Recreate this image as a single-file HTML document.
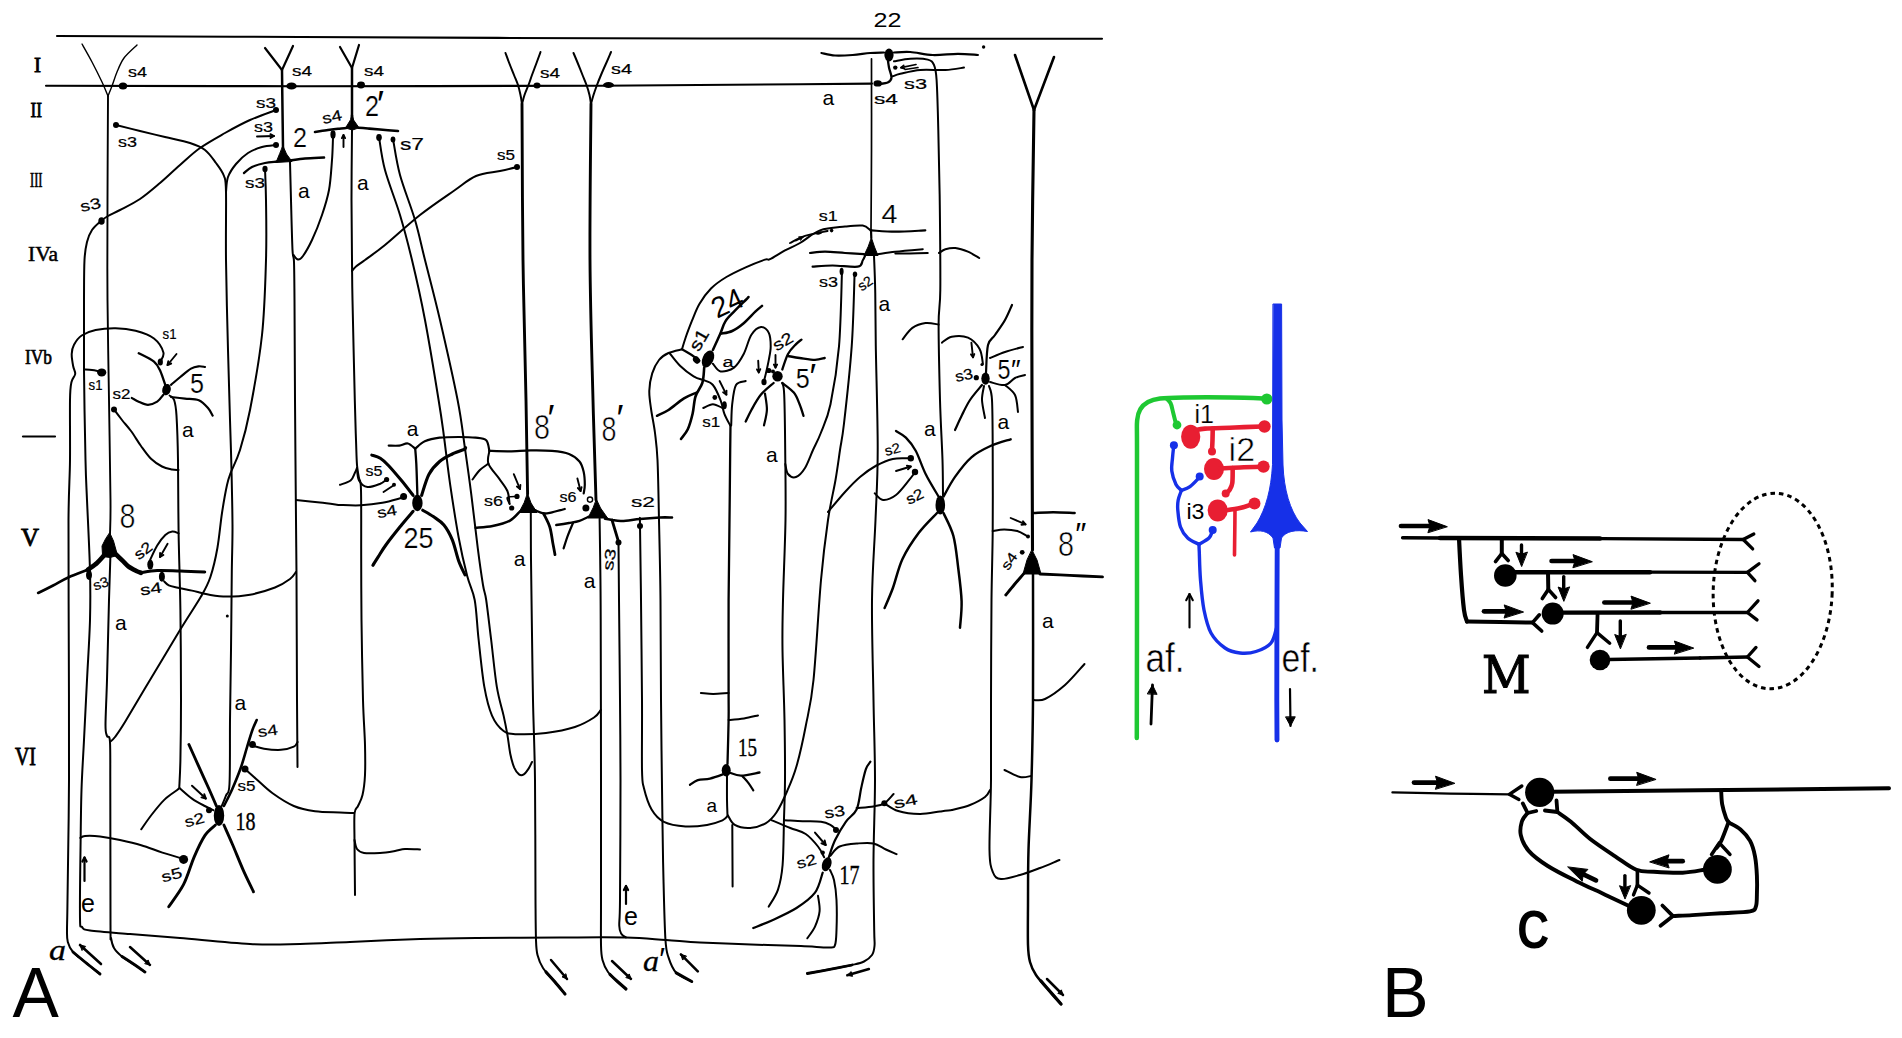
<!DOCTYPE html>
<html><head><meta charset="utf-8"><title>Figure</title>
<style>
html,body{margin:0;padding:0;background:#fff;}
body{width:1902px;height:1038px;overflow:hidden;}
svg{display:block;}
.s{font-family:"Liberation Sans",sans-serif;}
.r{font-family:"Liberation Serif",serif;}
.d{font-family:"DejaVu Serif","Liberation Serif",serif;}
</style></head><body>
<svg width="1902" height="1038" viewBox="0 0 1902 1038">
<rect width="1902" height="1038" fill="#fff"/>
<g fill="none" stroke="#000" stroke-linecap="round" stroke-linejoin="round">
<path d="M23,436.5L55,436.5" stroke-width="2.2"/>
<path d="M57,36C97.5,36.2 209.5,36.6 300,37C390.5,37.4 500,38 600,38.3C700,38.6 816.3,38.6 900,38.7C983.7,38.8 1068.3,38.7 1102,38.7" stroke-width="2.1"/>
<path d="M46,85.7C88.3,85.8 207.7,86.2 300,86.2C392.3,86.2 516.7,86 600,85.7C683.3,85.4 754.7,84.6 800,84.2C845.3,83.8 860,83.7 872,83.6" stroke-width="2.1"/>
<path d="M82,44C83.7,47 88.7,55.7 92,62C95.3,68.3 99.3,76.3 102,82C104.7,87.7 107,93.7 108,96" stroke-width="1.4"/>
<path d="M137,45C134.8,47.2 127.3,53.5 124,58C120.7,62.5 119,67.3 117,72C115,76.7 113.5,82 112,86C110.5,90 108.7,94.3 108,96" stroke-width="1.4"/>
<path d="M108,96C107.9,113.3 107.6,166 107.5,200C107.4,234 107.2,266.7 107.5,300C107.8,333.3 108.5,366.7 109,400C109.5,433.3 110.3,477.7 110.5,500C110.7,522.3 110.1,528.3 110,534" stroke-width="1.9"/>
<path d="M265,48L282,70" stroke-width="2.2"/>
<path d="M293,46L282,70" stroke-width="2.2"/>
<path d="M282,70C282.1,76.7 282.3,97 282.5,110C282.7,123 282.9,141.7 283,148" stroke-width="2.5"/>
<path d="M340,47L352,68" stroke-width="2.2"/>
<path d="M359,45L352,68" stroke-width="2.2"/>
<path d="M352,68L352,116" stroke-width="2.5"/>
<path d="M505.5,53C506.1,54.6 507.6,58.8 509,62.5C510.4,66.2 512.5,71.2 514,75C515.5,78.8 516.9,81.7 518,85C519.1,88.3 519.8,91.8 520.5,95C521.2,98.2 521.8,102.5 522,104" stroke-width="2"/>
<path d="M540.5,52C539.9,53.8 538.1,58.7 536.7,62.5C535.3,66.3 533.4,71.2 532,75C530.6,78.8 529.8,81.7 528.5,85C527.2,88.3 525.6,91.8 524.5,95C523.4,98.2 522.4,102.5 522,104" stroke-width="2"/>
<path d="M522,104C522.2,130 522.3,210.7 523,260C523.7,309.3 525.2,361 526,400C526.8,439 527.3,478.3 527.6,494" stroke-width="2.9"/>
<path d="M573.5,53C574.2,54.6 576,58.8 577.5,62.5C579,66.2 581,71.2 582.5,75C584,78.8 585.3,81.7 586.5,85C587.7,88.3 588.8,91.8 589.5,95C590.2,98.2 590.8,102.5 591,104" stroke-width="2"/>
<path d="M611,52C610.2,53.8 608.2,58.7 606.5,62.5C604.8,66.3 602.6,71.2 601,75C599.4,78.8 598.2,81.7 597,85C595.8,88.3 594.5,91.8 593.5,95C592.5,98.2 591.4,102.5 591,104" stroke-width="2"/>
<path d="M591,104C590.8,130 589.7,210.7 590,260C590.3,309.3 592,360 593,400C594,440 595.5,483.3 596,500" stroke-width="2.9"/>
<path d="M1015,55L1034,110" stroke-width="2.6"/>
<path d="M1054,57L1034,110" stroke-width="2.6"/>
<path d="M1034,110C1033.7,135 1032.3,211.7 1032,260C1031.7,308.3 1031.9,351.7 1032,400C1032.1,448.3 1032.4,525 1032.5,550" stroke-width="3.1"/>
<ellipse cx="123" cy="86" rx="4.2" ry="3.6" fill="#000" stroke="none"/>
<ellipse cx="291.5" cy="86" rx="5.2" ry="3.6" fill="#000" stroke="none"/>
<ellipse cx="361" cy="85" rx="4" ry="3.4" fill="#000" stroke="none"/>
<ellipse cx="537" cy="85.5" rx="3.5" ry="3" fill="#000" stroke="none"/>
<ellipse cx="608.5" cy="85" rx="5.5" ry="3" fill="#000" stroke="none"/>
<ellipse cx="877.7" cy="83.4" rx="4.2" ry="3.2" fill="#000" stroke="none"/>
<circle cx="116" cy="125" r="3" fill="#000" stroke="none"/>
<path d="M116,125C120,126 131.8,129 140,131C148.2,133 156.7,135 165,137C173.3,139 183.3,140.8 190,143C196.7,145.2 200.7,146.7 205,150C209.3,153.3 212.8,158.7 216,163C219.2,167.3 222.3,171.2 224,176C225.7,180.8 225.7,178 226,192C226.3,206 225.7,233.7 226,260C226.3,286.3 227.3,323.3 228,350C228.7,376.7 229.4,400 230,420C230.6,440 231.1,452.5 231.5,470C231.9,487.5 232.4,508.2 232.5,525C232.6,541.8 232.1,550.2 231.8,571C231.6,591.8 231.3,625.2 231,650C230.7,674.8 230.2,697.7 230,720C229.8,742.3 230.2,771.4 229.5,784C228.8,796.6 227.3,791.8 226,795.5C224.7,799.2 222.4,804.2 221.7,806" stroke-width="2"/>
<circle cx="276" cy="110" r="3" fill="#000" stroke="none"/>
<path d="M276,110C271.7,111.7 258.5,116.2 250,120C241.5,123.8 233.3,128.3 225,133C216.7,137.7 207.5,142.7 200,148C192.5,153.3 186.7,159.2 180,165C173.3,170.8 166.7,177.3 160,183C153.3,188.7 146.7,194.5 140,199C133.3,203.5 125.3,207.2 120,210C114.7,212.8 111.2,214.2 108,216C104.8,217.8 103.7,218.7 101,221C98.3,223.3 94.3,226.5 92,230C89.7,233.5 88.2,237 87,242C85.8,247 85,250.3 84.5,260C84,269.7 84.1,281.7 84,300C83.9,318.3 83.8,343.3 84,370C84.2,396.7 85,438.3 85.5,460C86,481.7 86.2,481.5 87,500C87.8,518.5 89.5,551 90,571C90.5,591 90.5,601.8 90,620C89.5,638.2 88,660 87,680C86,700 84.9,721.7 84,740C83.1,758.3 82.1,771.7 81.5,790C80.9,808.3 80.8,828.7 80.5,850C80.2,871.3 79.8,905.2 80,918C80.2,930.8 80.3,924.9 82,927C83.7,929.1 82,929.3 90,930.5C98,931.7 115,932.8 130,934C145,935.2 160,936.3 180,938C200,939.7 230,943 250,944C270,945 283.3,944.3 300,944C316.7,943.7 330,942.8 350,942C370,941.2 399,939.7 420,939C441,938.3 452.7,938.2 476,938C499.3,937.8 535,937.6 560,937.5C585,937.4 608.3,937.1 626,937.5C643.7,937.9 653.7,939.2 666,940C678.3,940.8 685.8,941.8 700,942.5C714.2,943.2 734.2,943.9 751,944.5C767.8,945.1 788,945.5 801,946C814,946.5 823.3,947.7 829,947.5C834.7,947.3 833.8,947.9 835,945C836.2,942.1 836.2,937.5 836.5,930C836.8,922.5 836.9,908.3 836.5,900C836.1,891.7 835.1,885 834,880C832.9,875 830.7,871.7 830,870" stroke-width="2"/>
<ellipse cx="101.5" cy="221" rx="3.2" ry="3.8" fill="#000" stroke="none"/>
<path d="M257,136.5L274,136" stroke-width="1.9"/>
<path d="M270.5,138L274,136L270.4,134.2" stroke-width="1.9"/>
<circle cx="276" cy="145" r="3" fill="#000" stroke="none"/>
<path d="M276,145C273.7,145.3 266.7,145.7 262,147C257.3,148.3 252.3,150.2 248,153C243.7,155.8 239.3,160 236,164C232.7,168 229.7,172.3 228,177C226.3,181.7 226.3,189.5 226,192" stroke-width="2"/>
<polygon points="283,146 286.5,154 292,161.5 276,162.5 279.5,154" fill="#000" stroke="#000" stroke-width="1" stroke-linejoin="round"/>
<path d="M290,160.5C292.5,160.2 299.3,159 305,158.5C310.7,158 320.8,157.7 324,157.5" stroke-width="2.6"/>
<path d="M277,161.5C275,161.8 269.2,162.1 265,163C260.8,163.9 255.5,165.3 252,167C248.5,168.7 245.3,172 244,173" stroke-width="2.3"/>
<ellipse cx="265" cy="169" rx="2.6" ry="3.2" fill="#000" stroke="none"/>
<path d="M265,169C265.2,174.2 265.8,184.8 266,200C266.2,215.2 266.7,237.5 266,260C265.3,282.5 264.7,310 262,335C259.3,360 253.7,390.8 250,410C246.3,429.2 243.2,439.7 240,450C236.8,460.3 233.2,466.2 231,472C228.8,477.8 228.5,478.2 227,485C225.5,491.8 223.6,502.5 222,513C220.4,523.5 219.3,537.3 217.4,548C215.5,558.7 213.1,568.9 210.4,577C207.7,585.1 206.1,587.7 201,596.5C195.9,605.3 188.5,616.1 180,630C171.5,643.9 159.2,664.7 150,680C140.8,695.3 130.8,712.5 125,722C119.2,731.5 117.5,733.7 115,737C112.5,740.3 110.8,741.2 110,742" stroke-width="2"/>
<path d="M290,162C290.2,168.3 290.6,185.3 291,200C291.4,214.7 292,239.7 292.5,250C293,260.3 293.7,253.7 294,262C294.3,270.3 294.3,277 294.5,300C294.7,323 294.8,363.3 295,400C295.2,436.7 295.8,490.8 296,520C296.2,549.2 296.3,545 296.5,575C296.7,605 296.8,668 297,700C297.2,732 297.4,755.8 297.5,767" stroke-width="2"/>
<path d="M293.5,255C294.2,255.8 296.4,259.3 298,259.5C299.6,259.7 300.7,259.2 303,256C305.3,252.8 308.8,246.8 312,240C315.2,233.2 319.2,223.3 322,215C324.8,206.7 327.3,199.2 329,190C330.7,180.8 331.3,168.7 332,160C332.7,151.3 332.8,141.7 333,138" stroke-width="2"/>
<ellipse cx="333" cy="134.5" rx="2.6" ry="4.2" fill="#000" stroke="none"/>
<path d="M343.5,147L343.5,135" stroke-width="1.9"/>
<path d="M345.1,138.1L343.5,135L341.9,138.1" stroke-width="1.9"/>
<polygon points="352,112 353.6,120 359,127.8 352.5,130 345.5,128 350.4,120" fill="#000" stroke="#000" stroke-width="1" stroke-linejoin="round"/>
<path d="M346,128C344.7,128.1 341,128.5 338,128.8C335,129.1 331.8,129.5 328,130C324.2,130.5 317.2,131.7 315,132" stroke-width="2.6"/>
<path d="M358.5,127.8C360.1,127.9 364.4,128.2 368,128.5C371.6,128.8 375,129.1 380,129.5C385,129.9 395,130.8 398,131" stroke-width="2.6"/>
<path d="M352,130C351.9,141.7 351.5,178.3 351.5,200C351.5,221.7 351.8,243.3 352,260C352.2,276.7 352,276.7 352.5,300C353,323.3 354.2,376.7 354.8,400C355.4,423.3 355.6,429.2 356,440C356.4,450.8 356.5,458.7 357,465C357.5,471.3 358.3,473.8 359,478C359.7,482.2 360.6,476.3 361,490C361.4,503.7 361.1,538.3 361.2,560C361.3,581.7 361.2,596.7 361.5,620C361.8,643.3 362.4,679.2 363,700C363.6,720.8 364.7,732.5 365,745C365.3,757.5 365.4,766.7 365,775C364.6,783.3 363.7,789.8 362.5,795C361.3,800.2 359.3,803 358,806C356.7,809 355.2,807.3 354.6,813C354,818.7 354.4,826.3 354.5,840C354.6,853.7 354.9,885.8 355,895" stroke-width="2"/>
<ellipse cx="379" cy="137.5" rx="2.8" ry="3.4" fill="#000" stroke="none"/>
<ellipse cx="393" cy="139.5" rx="2.4" ry="3" fill="#000" stroke="none"/>
<path d="M379,137C380,142.5 381.5,157 385,170C388.5,183 395.5,200 400,215C404.5,230 407.8,242.5 412,260C416.2,277.5 420.6,296.7 425,320C429.4,343.3 435.5,380.7 438.6,400C441.8,419.3 442,421.9 443.9,436C445.8,450.1 447.7,467.8 450.2,484.8C452.7,501.8 455.9,522.6 458.7,537.8C461.5,553 464.5,565.6 467.2,576C469.9,586.4 472.8,589.6 474.7,600C476.6,610.4 476.9,624 478.5,638.5C480.1,653 482.1,673.9 484.3,686.7C486.6,699.6 488.8,708.2 492,715.6C495.2,723 499.4,727.9 503.6,731C507.8,734.1 509.9,733.9 517,734.2C524.1,734.5 536.4,734.2 546,733C555.6,731.8 566.9,729.6 574.9,727C582.9,724.4 589.7,720.3 594,717.5C598.3,714.7 599.7,711.2 600.8,710" stroke-width="2"/>
<path d="M393,139C394.2,145 396.3,161.5 400,175C403.7,188.5 410.8,205.8 415,220C419.2,234.2 420.8,243.3 425,260C429.2,276.7 434.6,296.7 440,320C445.4,343.3 453.4,378.6 457.6,400C461.8,421.4 462.7,432.8 465,448.7C467.3,464.6 469.3,478.8 471.4,495.4C473.5,512 475.9,533.5 477.8,548.4C479.7,563.3 481.6,576.4 483,585C484.4,593.6 484.9,591.1 486.2,600C487.5,608.9 489.2,624 491,638.5C492.8,653 494.7,673.9 496.8,686.7C498.9,699.6 501.8,707.6 503.6,715.6C505.4,723.6 506.3,728.5 507.4,734.9C508.5,741.3 509.2,748.5 510.3,754C511.4,759.5 512.8,764.2 514.2,767.6C515.7,771 517.4,773.3 519,774.4C520.6,775.5 522.2,775.4 523.8,774.4C525.4,773.4 527.2,770.7 528.6,768.6C530,766.5 531.4,763.1 532,762" stroke-width="2"/>
<circle cx="517" cy="167" r="3" fill="#000" stroke="none"/>
<path d="M517,167C514.2,167.7 506.8,169.5 500,171C493.2,172.5 483.5,172.8 476,176C468.5,179.2 464.3,183.5 455,190C445.7,196.5 431.7,205.8 420,215C408.3,224.2 394.2,237.5 385,245C375.8,252.5 369.8,256.4 365,260C360.2,263.6 358.2,264.7 356,266.5C353.8,268.3 352.7,270.2 352,271" stroke-width="2"/>
<ellipse cx="889" cy="55" rx="4.6" ry="6.5" fill="#000" stroke="none"/>
<path d="M884,52.5C881.7,52.6 875.4,52.6 870.2,53C865,53.4 858.6,54.6 852.7,55C846.8,55.4 840.2,55.8 835,55.5C829.8,55.2 823.7,53.4 821.4,53" stroke-width="2.2"/>
<path d="M894,52.5C896.7,52.4 903.8,51.6 910.3,52C916.8,52.4 924.9,54.7 932.8,55C940.7,55.3 950.4,53.8 957.9,53.8C965.4,53.8 974.6,54.8 977.9,55" stroke-width="2.2"/>
<path d="M887.7,58.8C887.9,60.3 888.4,64.5 889,67.6C889.6,70.7 891.7,75.1 891.5,77.6C891.3,80.1 889.6,81.5 887.7,82.6C885.8,83.6 881.5,83.7 880.2,83.9" stroke-width="2.3"/>
<circle cx="895.3" cy="67.6" r="2.2" fill="#000" stroke="none"/>
<path d="M916,64.5L901,67.6" stroke-width="1.7"/>
<path d="M903.7,65.4L901,67.6L904.4,68.6" stroke-width="1.7"/>
<path d="M905,69.5L918,67.5" stroke-width="1.6"/>
<path d="M894,61.3C896.7,60.9 904.7,59.1 910.3,58.8C915.9,58.5 923.8,58.6 927.8,59.6C931.8,60.6 932.5,61.6 934,65C935.5,68.4 935.9,69.2 936.6,80C937.3,90.8 937.8,109.1 938.3,130C938.8,150.9 939.5,178.7 939.8,205.4C940.1,232.1 940.5,270.1 940.3,290C940.1,309.9 938.6,306.3 938.6,324.6C938.6,342.9 939.4,377.4 940,400C940.6,422.6 942,444 942.5,460C943,476 942.9,490 943,496" stroke-width="2"/>
<path d="M892.7,76.3C894,75.9 895.7,74.8 900.3,73.8C904.9,72.8 912.8,70.6 920.3,70C927.8,69.4 938.1,70.4 945.4,70C952.7,69.6 960.9,68 964,67.6" stroke-width="2"/>
<circle cx="983.6" cy="47" r="1.7" fill="#000" stroke="none"/>
<path d="M871.5,58.8C871.5,74 871.6,121.5 871.5,150C871.4,178.5 871.1,216.7 871,230" stroke-width="1.7"/>
<polygon points="871.5,238 874.5,247 878,255.5 864,255.5 868,247" fill="#000" stroke="#000" stroke-width="1" stroke-linejoin="round"/>
<path d="M871,230L871.3,238" stroke-width="2.2"/>
<path d="M870.5,230.4C869.2,229.6 867,226.2 862.7,225.6C858.5,225 852.1,225.8 845,226.6C837.9,227.4 827.5,227.7 820,230.4C812.5,233.1 805.8,239.7 800,243C794.2,246.3 790,247.7 785,250.4C780,253.1 773.3,257.7 770,259.2C766.7,260.7 769,258.2 765,259.6C761,261 752.1,264.4 745.7,267.3C739.3,270.2 732.2,273.5 726.4,277C720.6,280.5 715.5,284 711,288.5C706.5,293 702.6,298.5 699.4,304C696.2,309.5 694,315.9 691.7,321.3C689.5,326.8 687.5,332 685.9,336.7C684.3,341.4 682.6,347.2 682,349.3" stroke-width="2"/>
<path d="M790,243C792.5,241.8 798.7,237.8 805,235.8C811.3,233.8 823.8,231.8 827.6,231" stroke-width="1.9"/>
<path d="M796,240.5L803,236.8" stroke-width="1.9"/>
<polygon points="800.8,240.1 803,236.8 799,236.8" fill="#000" stroke="#000" stroke-width="1" stroke-linejoin="round"/>
<ellipse cx="819" cy="233" rx="3.2" ry="1.6" fill="#000" stroke="none" transform="rotate(-12 819 233)"/>
<circle cx="831.6" cy="230.6" r="1.8" fill="#000" stroke="none"/>
<path d="M871.5,230.4C875.5,230.6 886.3,231.7 895.3,231.7C904.3,231.7 920.3,230.6 925.3,230.4" stroke-width="2.2"/>
<path d="M864,254.2C860.8,254 851.5,253.4 845,253C838.5,252.6 830.8,251.7 825,251.7C819.2,251.7 812.5,252.8 810,253" stroke-width="2.2"/>
<path d="M877.7,254.2C880.6,253.8 887.8,252.5 895.3,251.7C902.8,250.9 918.2,249.6 922.8,249.2" stroke-width="2"/>
<path d="M895.3,253.5C897.8,253.5 904.6,253.6 910,253.5C915.4,253.4 924.8,253.1 927.8,253" stroke-width="1.9"/>
<path d="M812.6,266.7C815.9,266.5 825.1,265.5 832.6,265.5C840.1,265.5 852.7,267.5 857.7,266.7C862.7,265.9 861.5,262.4 862.7,260.5C864,258.6 864.8,256.3 865.2,255.5" stroke-width="2.2"/>
<ellipse cx="841.6" cy="271.4" rx="2" ry="3.6" fill="#000" stroke="none"/>
<ellipse cx="855" cy="274.2" rx="2.2" ry="2.8" fill="#000" stroke="none"/>
<path d="M874,255.5C874.2,261.2 874.9,274.9 875.2,290C875.5,305.1 875.4,319.3 875.8,346C876.2,372.7 877.8,421 877.7,450C877.7,479 876.5,495 875.5,520C874.5,545 872.3,570 872,600C871.7,630 873,670 873.5,700C874,730 875,753.3 875,780C875,806.7 873.6,835 873.5,860C873.4,885 874,915.7 874.2,930C874.4,944.3 874.9,941.8 874.5,946C874.1,950.2 873.8,952.4 872,955C870.2,957.6 867.3,959.8 864,961.5C860.7,963.2 858.1,963.6 852,965C845.9,966.4 834.8,968.4 827.3,969.8C819.8,971.2 810.6,972.9 807.3,973.5" stroke-width="2"/>
<path d="M939,253C940.1,252.4 942.7,250 945.4,249.2C948.1,248.4 951.6,247.6 955.4,248C959.1,248.4 963.9,250 967.9,251.7C971.9,253.4 977.3,256.9 979.2,258" stroke-width="2"/>
<path d="M842,271C841.5,283.6 840.9,324.2 839,346.4C837.1,368.6 833.5,389.8 830.5,404.2C827.5,418.6 823.7,425.4 820.8,433C817.9,440.6 815.6,444.2 813,450C810.4,455.8 807.8,463.5 805,468C802.2,472.5 798.8,476 796,477C793.2,478 789.8,476.2 788,474C786.2,471.8 785.8,465.7 785.3,464" stroke-width="2"/>
<path d="M854.6,274C854.1,286.1 853.5,321.5 851.7,346.4C849.9,371.3 846,406.2 844,423.5C842,440.8 841.4,440.6 840,450C838.6,459.4 837.5,468.3 835.5,480C833.5,491.7 830.4,503.3 828,520C825.6,536.7 823.4,553.3 821,580C818.6,606.7 816,655.6 813.5,680C811,704.4 808.5,711.8 805.7,726.2C802.9,740.6 799.6,755.5 796.5,766.3C793.4,777.1 790.6,783.3 787.2,791C783.9,798.7 780,807.1 776.4,812.5C772.8,817.9 770,820.7 765.6,823.3C761.2,825.9 755.3,827.7 750.2,828C745.1,828.3 738.5,827 734.8,824.9C731.1,822.8 729.1,817.1 728,815.6" stroke-width="2"/>
<path d="M160.3,361.7C160.8,360.1 164.5,356.3 163.4,352.4C162.3,348.5 158.6,342.1 154,338.5C149.4,334.9 142,332.5 135.6,330.8C129.2,329.1 122.3,328.3 115.6,328.2C108.9,328.1 101.2,328.8 95.6,330C89.9,331.2 85.3,333.1 81.7,335.5C78.1,337.9 75.7,341.6 74,344.7C72.3,347.8 71.8,350.4 71.7,354C71.6,357.6 72.6,363 73.2,366.3C73.8,369.6 75.5,371.4 75.2,374C74.9,376.6 72.4,377.7 71.5,382C70.6,386.3 70.2,387 70,400C69.8,413 70.2,440 70,460C69.8,480 68.7,488.3 68.5,520C68.3,551.7 68.7,606.7 68.8,650C68.9,693.3 69.2,738.3 69,780C68.8,821.7 67.8,875 67.5,900C67.2,925 67,923 67,930C67,937 66.8,938.3 67.8,942C68.8,945.7 70.1,948.7 73,952C75.9,955.3 80.5,958.3 85,962C89.5,965.7 97.5,972 100,974" stroke-width="2"/>
<path d="M84,369.4C85.3,369.5 89.6,369.7 92,370C94.4,370.3 97.5,371 98.6,371.2" stroke-width="2"/>
<ellipse cx="101.7" cy="372.4" rx="4.6" ry="4" fill="#000" stroke="none"/>
<ellipse cx="160.3" cy="362" rx="2.6" ry="3.6" fill="#000" stroke="none"/>
<path d="M176.5,354L167.5,365" stroke-width="1.9"/>
<path d="M168.3,361.1L167.5,365L171.2,363.5" stroke-width="1.9"/>
<ellipse cx="166.5" cy="389.6" rx="4.2" ry="5.8" fill="#000" stroke="none" transform="rotate(15 166.5 389.6)"/>
<path d="M165.7,386.3C164.8,383.8 162.2,375.1 160.3,371C158.4,366.9 157.6,364.7 154,361.7C150.4,358.7 141.2,354.6 138.7,353.2" stroke-width="2.3"/>
<path d="M171,384.8C172.6,383.5 177,379.7 180.3,377C183.6,374.3 187.9,370.4 191,368.6C194.1,366.8 196.5,366.6 198.8,366.3C201.1,366 204,366.9 205,367" stroke-width="2.2"/>
<path d="M171,397C173.3,397.3 180.4,398.1 185,398.6C189.6,399.1 195,398.6 198.8,400.2C202.6,401.8 205.7,405.4 208,408C210.3,410.6 211.9,414.3 212.7,415.6" stroke-width="2.2"/>
<path d="M163.4,394.8C162.4,395.9 159.8,400 157.2,401.7C154.6,403.4 151.1,404.8 148,404.8C144.9,404.8 141.4,402.9 138.7,401.7C136,400.5 133,398.5 131.8,397.9" stroke-width="2.2"/>
<circle cx="114" cy="409.4" r="3" fill="#000" stroke="none"/>
<path d="M114,409.4C115.3,411.2 119.2,416.4 122,420C124.8,423.6 127.8,426.7 131,431C134.2,435.3 137.7,441.4 141,446C144.3,450.6 147.5,455.4 151,458.8C154.5,462.2 158.5,464.7 162,466.5C165.5,468.3 169.2,468.9 172,469.5C174.8,470.1 177.4,469.9 178.5,470" stroke-width="2"/>
<path d="M169.6,395.6C170.4,396.4 173,396.9 174.2,400.2C175.3,403.5 175.9,405.6 176.5,415.6C177.1,425.6 177.7,440.4 178,460C178.3,479.6 178.2,508 178.6,533C179,558 180,582.2 180.4,610C180.8,637.8 181,675 181,700C181,725 180.7,745.5 180.4,760C180.1,774.5 179.5,782.5 179.3,787" stroke-width="2"/>
<path d="M179.5,788C179.1,788.3 179.7,788.1 177.2,790C174.7,791.9 168.7,795.5 164.5,799.6C160.3,803.7 155.7,809.5 151.8,814.5C147.9,819.5 143,826.8 141.2,829.3" stroke-width="2"/>
<path d="M179.5,788C181.6,789.8 187.8,795.6 192,798.6C196.2,801.6 201.2,804.1 204.8,806C208.4,807.9 211.9,809.5 213.3,810.2" stroke-width="2"/>
<ellipse cx="417.4" cy="503" rx="5.2" ry="8.2" fill="#000" stroke="none"/>
<path d="M340,505C343.5,505.1 353.9,505.7 361,505.3C368.1,504.9 375.6,504 382.4,502.8C389.1,501.6 398.3,498.8 401.5,498" stroke-width="2"/>
<path d="M296,500C300,500.4 312.7,501.7 320,502.5C327.3,503.3 336.7,504.6 340,505" stroke-width="2"/>
<circle cx="403.6" cy="496.6" r="3.5" fill="#000" stroke="none"/>
<circle cx="386.6" cy="479.5" r="2.6" fill="#000" stroke="none"/>
<circle cx="394" cy="484.8" r="2" fill="#000" stroke="none"/>
<path d="M383.5,492L393,485.8" stroke-width="1.9"/>
<path d="M357,468C356.6,468.8 355.9,470.9 354.8,473C353.7,475.1 353.1,478.5 350.6,480.5C348.1,482.5 341.8,484.1 340,484.8" stroke-width="2"/>
<path d="M357,468C357.3,470.1 357.2,477.3 359,480.5C360.8,483.7 363.9,486.5 367.5,487C371.1,487.5 377.1,484.9 380.3,483.7C383.5,482.4 385.6,480.2 386.6,479.5" stroke-width="2"/>
<path d="M417.4,495C417.2,489.8 416.7,471.3 416.3,463.6C415.9,455.9 415.4,451.2 415.2,448.7" stroke-width="2.3"/>
<path d="M415.2,448.7C414,447.8 410.4,444 407.8,443.5C405.2,443 402.5,445.2 399.3,445.6C396.1,446 390.5,445.6 388.7,445.6" stroke-width="2.2"/>
<path d="M415.2,448.7C416.8,447.5 420.7,443.1 424.8,441.3C428.9,439.5 434,438.4 439.6,437.7C445.2,437 452.7,437 458.7,437C464.7,437 471,437.1 475.6,437.7C480.2,438.2 483.9,438.1 486.2,440.3C488.5,442.5 488.9,449.1 489.4,450.9" stroke-width="2.2"/>
<path d="M489.4,450.9C492.8,451 502.7,451.4 509.6,451.3C516.5,451.2 523.7,450.5 530.8,450.4C537.9,450.3 545.6,450.3 552,450.9C558.4,451.5 564.4,452.2 569,454C573.6,455.8 577,458.5 579.5,461.5C582,464.5 582.8,468.1 583.7,472C584.6,475.9 584.8,481.2 584.8,484.8C584.8,488.4 583.9,491.9 583.7,493.3" stroke-width="2.2"/>
<path d="M489.4,450.9C489.2,453 486.8,459 488.4,463.6C490,468.2 495.8,473.8 499,478.4C502.2,483 505.6,486.8 507.4,491C509.2,495.2 509.2,501.8 509.6,503.9" stroke-width="2"/>
<path d="M488.4,463.6C487,464.7 482.5,467.4 479.9,470C477.2,472.6 473.7,477.9 472.5,479.5" stroke-width="2"/>
<path d="M421.6,495.4C422.8,491.9 426,479.8 429,474.2C432,468.6 435.7,464.9 439.6,461.5C443.5,458.1 448.1,456.1 452.3,454C456.5,451.9 462.9,450 465,449.2" stroke-width="3.1"/>
<circle cx="465.4" cy="447.7" r="1.8" fill="#000" stroke="none"/>
<path d="M413.1,495.4C411.2,492.9 405.6,485.4 401.5,480.5C397.4,475.6 392.2,469.4 388.7,465.7C385.2,462 383.1,460.1 380.3,458.3C377.5,456.5 373.2,455.6 371.8,455.1" stroke-width="3.1"/>
<path d="M413.1,511.3C411.2,513.6 405.9,519.5 401.5,525C397.1,530.5 390.5,538.7 386.6,544C382.7,549.3 380.5,553.2 378.2,556.8C375.9,560.3 373.8,563.9 372.9,565.3" stroke-width="3.1"/>
<path d="M422.7,510.2C424.5,511.3 429.8,514.1 433.3,516.6C436.8,519.1 440.7,521.1 443.9,525C447.1,528.9 449.8,533.9 452.3,539.9C454.8,545.9 456.6,555.2 458.7,561C460.8,566.8 463.9,572.6 465,574.9" stroke-width="3.1"/>
<polygon points="527.6,493.5 531,503 537,512.5 519,512.5 524,503" fill="#000" stroke="#000" stroke-width="1" stroke-linejoin="round"/>
<path d="M520,511.3C518.3,512.9 514.2,518.3 509.6,520.8C505,523.2 498.3,524.8 492.6,526C486.9,527.2 478.4,527.5 475.6,527.8" stroke-width="2.5"/>
<path d="M535,510.2C536.4,510.7 540.7,513 543.5,513.4C546.3,513.8 548.5,513 552,512.3C555.5,511.6 562.6,509.6 564.7,509" stroke-width="2.3"/>
<path d="M543.5,513.4C544.5,515.7 548.2,521.9 549.8,527C551.4,532.1 552.1,539.4 553,544C553.9,548.6 554.7,552.9 555,554.7" stroke-width="2.8"/>
<path d="M530.8,512.3C530.8,520.2 530.8,542 531,560C531.2,578 531.5,596.7 531.8,620C532.1,643.3 532.5,673.3 533,700C533.5,726.7 534.6,746.7 535,780C535.4,813.3 535.3,873.3 535.5,900C535.7,926.7 535.7,930.8 536,940C536.3,949.2 536.3,950.3 537.5,955C538.7,959.7 540.1,963.5 543,968C545.9,972.5 551.3,977.7 555,982C558.7,986.3 563.3,992 565,994" stroke-width="2"/>
<circle cx="517" cy="496.4" r="2.6" fill="#000" stroke="none"/>
<circle cx="511.7" cy="508" r="2.6" fill="#000" stroke="none"/>
<path d="M509.6,503.9C509.2,502.8 506.2,498.8 507.4,497.5C508.6,496.2 515.4,496.6 517,496.4" stroke-width="1.7"/>
<path d="M513.8,474.2L520,489" stroke-width="1.9"/>
<path d="M516.9,486.5L520,489L520.4,485" stroke-width="1.9"/>
<polygon points="596.5,499.5 600.5,508 607.5,518 588,518 593,508" fill="#000" stroke="#000" stroke-width="1" stroke-linejoin="round"/>
<path d="M589,516.6C587.4,517.3 582.8,519.7 579.5,520.8C576.2,521.9 572.9,522.3 569,523C565.1,523.7 558.3,524.7 556.2,525" stroke-width="2.3"/>
<path d="M573,523C572.1,525.1 569.4,531.4 567.8,535.6C566.2,539.8 564.3,546.3 563.6,548.4" stroke-width="2.2"/>
<path d="M605,518.7C606.2,518.9 609.2,519.6 612,520C614.8,520.4 617.3,521.2 622,521C626.7,520.8 633.7,519.6 640,519C646.3,518.4 654.7,517.8 660,517.5C665.3,517.2 670,517.5 672,517.5" stroke-width="2.6"/>
<path d="M599.6,518.7C599.7,525.6 600,543.1 600.2,560C600.4,576.9 600.6,583.3 600.7,620C600.8,656.7 601,733.3 601,780C601,826.7 601,872.5 601,900C601,927.5 600.8,935 601,945C601.2,955 601.3,955.5 602.5,960C603.7,964.5 605.4,968.3 608,972C610.6,975.7 615,979.2 618,982C621,984.8 624.7,987.8 626,989" stroke-width="2"/>
<path d="M577.4,478.4L580.6,491" stroke-width="1.9"/>
<path d="M577.9,488L580.6,491L581.6,487.1" stroke-width="1.9"/>
<circle cx="585.9" cy="508" r="3.5" fill="#000" stroke="none"/>
<circle cx="590" cy="499.6" r="2.6" fill="#fff" stroke="#000" stroke-width="1.4"/>
<path d="M612,520C612.5,521.7 614,526.7 615,530C616,533.3 617.5,538.3 618,540" stroke-width="2.8"/>
<circle cx="618.5" cy="542.5" r="3" fill="#000" stroke="none"/>
<path d="M618.5,542.5C618.6,552.1 618.8,573.8 619,600C619.2,626.2 619.8,670 620,700C620.2,730 620.5,746.7 620.5,780C620.5,813.3 620.2,875.7 620,900C619.8,924.3 619,920.3 619.3,926C619.5,931.7 620.4,932.1 621.5,934C622.6,935.9 625.2,936.9 626,937.5" stroke-width="2"/>
<circle cx="640" cy="526" r="3" fill="#000" stroke="none"/>
<path d="M640,519C640,520.2 639.8,512.5 640,526C640.2,539.5 640.7,571 641,600C641.3,629 641.8,671.7 642,700C642.2,728.3 641.7,755.3 642,770C642.3,784.7 642.3,781.4 643.9,788C645.5,794.6 648.3,803.9 651.6,809.5C654.9,815.1 658.2,819 663.9,821.8C669.5,824.6 678.3,825.9 685.5,826.4C692.7,826.9 700.8,825.9 707,824.9C713.2,823.9 719,821.8 722.5,820.3C726,818.8 727.1,816.4 728,815.6" stroke-width="2"/>
<ellipse cx="708" cy="359" rx="5.5" ry="9" fill="#000" stroke="none" transform="rotate(25 708 359)"/>
<ellipse cx="696.5" cy="360" rx="3.2" ry="4" fill="#000" stroke="none" transform="rotate(-40 696.5 360)"/>
<path d="M682,349.3C679.8,349.9 672.3,351.2 668.5,353C664.7,354.8 661.7,356.6 659,360C656.3,363.4 653.8,368.3 652.2,373.4C650.6,378.5 649.5,384.6 649.3,390.7C649.1,396.8 650.2,402.9 651.2,410C652.2,417.1 654,424.7 655,433C656,441.3 656.8,445.5 657.5,460C658.2,474.5 658.5,496.7 659,520C659.5,543.3 660.2,570 660.5,600C660.8,630 660.7,663.7 661,700C661.3,736.3 662,788 662.4,818C662.8,848 663,859.8 663.5,880C664,900.2 664.6,926.1 665.4,939C666.2,951.9 666.7,951.8 668.5,957.4C670.3,963 672.3,968.8 676.2,972.8C680.1,976.8 689.1,980 691.7,981.5" stroke-width="2"/>
<path d="M682,349.3C683.6,350.2 688.8,353.1 691.7,355C694.6,356.9 698.1,359.8 699.4,360.8" stroke-width="2.2"/>
<path d="M669.5,353C671.2,355.1 676,361.8 680,365.7C684,369.6 689.7,373.9 693.6,376.3C697.5,378.7 701.6,379.4 703.2,380" stroke-width="2"/>
<path d="M712.9,350C714.2,347.1 718.5,337.7 720.6,332.9C722.7,328.1 723.2,324.8 725.4,321.3C727.6,317.8 730.6,315.2 734,311.7C737.4,308.1 743.3,302.4 745.7,300C748.1,297.6 748,297.5 748.5,297" stroke-width="2.5"/>
<path d="M720.6,333.8C722.5,333.3 728.4,332.8 732.2,331C736.1,329.2 739.9,326.4 743.7,323.2C747.6,320 752.2,314.6 755.3,311.7C758.3,308.8 760.9,306.9 762,305.9" stroke-width="2.5"/>
<path d="M712.9,363.7C714.2,365 717.1,370.8 720.6,371.4C724.1,372 730.1,370.5 734,367.6C737.9,364.7 740.8,359.5 743.7,354C746.6,348.5 748.5,339.3 751.4,334.8C754.3,330.3 758.1,327.3 761,327C763.9,326.7 767.2,329.7 768.8,332.9C770.4,336.1 770.7,341.9 770.7,346.4C770.7,350.9 769.6,355.4 768.8,359.9C768,364.4 766.7,369.9 765.9,373.4C765.1,376.9 764.3,379.7 764,381" stroke-width="2"/>
<ellipse cx="764" cy="382" rx="2.6" ry="3.2" fill="#000" stroke="none"/>
<path d="M704.2,367.6C703.9,370.2 703.8,378.2 702.3,383C700.8,387.8 697.1,391.4 695.5,396.5C693.9,401.6 693.9,408.3 692.6,413.8C691.3,419.3 689.7,425.1 687.8,429.3C685.9,433.5 682.1,437.3 681,438.9" stroke-width="2.6"/>
<path d="M696.5,392.6C694.4,393.6 688.7,395.5 684,398.4C679.3,401.3 673,407.1 668.5,410C664,412.9 658.9,414.8 657,415.8" stroke-width="2.5"/>
<path d="M703.2,380C704.8,380.8 710,381.6 712.9,385C715.8,388.4 718.7,395.5 720.6,400.3C722.5,405.1 722.8,409.6 724.4,413.8C726,418 729.2,423.5 730.2,425.4" stroke-width="2"/>
<circle cx="714.8" cy="397.5" r="2.4" fill="#000" stroke="none"/>
<ellipse cx="724.4" cy="405.2" rx="2.4" ry="4" fill="#000" stroke="none"/>
<path d="M719.6,381L726.4,394.6" stroke-width="1.9"/>
<path d="M723.1,392.3L726.4,394.6L726.5,390.6" stroke-width="1.9"/>
<path d="M703.2,408C704.8,407.4 709.7,404.2 712.9,404.2C716.1,404.2 720.9,407.4 722.5,408" stroke-width="1.9"/>
<path d="M745.7,381C744.1,381.7 738.2,381.1 736,385C733.8,388.9 733,397.5 732.2,404.2C731.4,410.9 731.4,421.9 731.2,425.4" stroke-width="2"/>
<path d="M730.5,425C730.5,429.2 730.4,434.2 730.2,450C730,465.8 729.8,495 729.5,520C729.2,545 728.8,571.2 728.6,600C728.5,628.8 728.6,673 728.6,693C728.6,713 728.8,708.2 728.6,720C728.4,731.8 727.7,756.7 727.5,764" stroke-width="2.3"/>
<circle cx="777.5" cy="376.3" r="5.2" fill="#000" stroke="none"/>
<circle cx="768.8" cy="370.5" r="2.6" fill="#000" stroke="none"/>
<circle cx="773" cy="371.5" r="2" fill="#000" stroke="none"/>
<path d="M758.2,360.8L758.8,372.4" stroke-width="1.9"/>
<path d="M757,369.4L758.8,372.4L760.3,369.2" stroke-width="1.9"/>
<path d="M775.5,355L775.5,367.6" stroke-width="1.9"/>
<path d="M773.9,364.5L775.5,367.6L777.1,364.5" stroke-width="1.9"/>
<path d="M782.3,369.5C783.2,366.9 785.8,358.2 788,354C790.2,349.8 793.5,346.8 795.8,344.4C798,342 800.5,340.4 801.5,339.6" stroke-width="2.3"/>
<path d="M788,356C789.9,356.3 795.1,357.4 799.6,358C804.1,358.6 810.8,359.9 815,359.9C819.2,359.9 823.1,358.3 824.7,358" stroke-width="2.3"/>
<path d="M782.3,383C784.2,384.6 790.9,389.1 793.8,392.6C796.7,396.1 798,400.3 799.6,404.2C801.2,408.1 802.9,413.9 803.5,415.8" stroke-width="2.3"/>
<path d="M773.6,383C771.5,384.9 764.7,390.1 761,394.6C757.3,399.1 753.9,405.5 751.4,410C748.9,414.5 746.7,419.6 745.7,421.5" stroke-width="2.3"/>
<path d="M765,393.6C765.3,396.3 767.1,404.7 766.9,410C766.7,415.3 764.5,422.8 764,425.4" stroke-width="2.2"/>
<path d="M782.3,383C782.6,384.9 783.7,383.4 784.2,394.6C784.7,405.8 785,429.1 785.2,450C785.4,470.9 785.9,495 785.5,520C785.1,545 783.5,578.3 783,600C782.5,621.7 782.2,630 782.5,650C782.8,670 784.1,698.3 784.5,720C784.9,741.7 785.1,763.5 785,780C784.9,796.5 784.4,804.5 784,818.7C783.6,832.9 783.6,853.2 782.6,865C781.6,876.8 780.3,882.7 778,889.6C775.7,896.5 770.2,903.8 768.7,906.6" stroke-width="2"/>
<ellipse cx="940.3" cy="505" rx="4.8" ry="9.5" fill="#000" stroke="none"/>
<path d="M938.6,324.6C936.4,324.3 929.9,322.4 925.5,323C921.1,323.6 916.2,325.2 912.4,327.9C908.6,330.6 904.2,337.4 902.6,339.3" stroke-width="2"/>
<path d="M942,342.6C943.6,341.6 947.4,337.5 951.7,336.7C956,335.9 963.4,335.6 968,337.7C972.6,339.8 977.1,344.6 979.6,349C982.1,353.4 982.4,361.4 982.9,363.9" stroke-width="2"/>
<path d="M938.6,496.6C936.4,492.8 929.3,481.4 925.5,473.7C921.7,466 919,456.7 915.7,450.7C912.4,444.7 909.2,440.9 905.9,437.6C902.6,434.3 897.6,432.1 896,431" stroke-width="2.3"/>
<path d="M943.5,496.6C945.4,493.3 950.4,483.4 955,476.9C959.6,470.3 965.4,462.5 971.4,457.3C977.4,452.1 984.5,448.8 991,445.8C997.5,442.8 1007.4,440.4 1010.7,439.3" stroke-width="2.3"/>
<path d="M937,513C934,516.3 924.7,525 919,532.6C913.3,540.2 907,549.5 902.6,558.8C898.2,568.1 895.8,580.1 892.8,588.3C889.8,596.5 886,604.7 884.6,608" stroke-width="2.5"/>
<path d="M943.5,513C945.1,516.8 950.9,526.7 953.4,536C955.9,545.3 956.9,557.8 958.3,568.7C959.7,579.6 961.3,591.6 961.6,601.4C961.9,611.2 960.3,623.3 960,627.7" stroke-width="2.5"/>
<path d="M828,512C830.8,508.7 839.7,497.8 845,492C850.3,486.2 854.8,481.4 860,477C865.2,472.6 870.9,468.5 876.4,465.5C881.9,462.5 887.4,460.1 892.8,458.9C898.2,457.7 906.3,458.4 909,458.3" stroke-width="2"/>
<circle cx="910.8" cy="458.3" r="3.2" fill="#000" stroke="none"/>
<circle cx="915" cy="472" r="3.2" fill="#000" stroke="none"/>
<path d="M874.7,493.3C876.1,494.4 879.5,499.6 883,499.9C886.5,500.2 891.7,498.3 896,495C900.3,491.7 906,483.8 909,480.2C912,476.6 913.2,474.8 914,473.7" stroke-width="2"/>
<path d="M896,471L910.8,466.5" stroke-width="1.9"/>
<path d="M908,469.3L910.8,466.5L906.9,465.7" stroke-width="1.9"/>
<ellipse cx="985.5" cy="378.6" rx="4.2" ry="6.2" fill="#000" stroke="none"/>
<circle cx="976.3" cy="377.7" r="2.6" fill="#000" stroke="none"/>
<circle cx="982" cy="364.5" r="1.6" fill="#000" stroke="none"/>
<path d="M971.4,342.6L973,357.3" stroke-width="1.9"/>
<path d="M971,354.4L973,357.3L974.3,354.1" stroke-width="1.9"/>
<path d="M986,373C986.3,368.3 986.5,351.3 988,345C989.5,338.7 992.2,339.2 995,335C997.8,330.8 1002.2,325 1005,320C1007.8,315 1010.8,307.5 1012,305" stroke-width="2.2"/>
<path d="M990,358C992.5,357 999.5,353.8 1005,352C1010.5,350.2 1020,347.8 1023,347" stroke-width="2"/>
<path d="M990,382C992.5,382.5 1000.8,385.7 1005,385C1009.2,384.3 1011.7,379.7 1015,378C1018.3,376.3 1023.3,375.5 1025,375" stroke-width="2"/>
<path d="M1005,385C1006.7,386.7 1012.8,390.5 1015,395C1017.2,399.5 1017.5,409.2 1018,412" stroke-width="2"/>
<path d="M982,385C980,387.5 973.3,395 970,400C966.7,405 964.5,410 962,415C959.5,420 956.2,427.5 955,430" stroke-width="2.2"/>
<path d="M984,386C983.7,388.3 981.8,394.7 982,400C982.2,405.3 984.5,415 985,418" stroke-width="2"/>
<path d="M989,386C989.5,388.3 991.4,389.3 992,400C992.6,410.7 992.6,428.2 992.7,450C992.8,471.8 992.9,506 992.7,531C992.5,556 991.8,571.8 991.5,600C991.2,628.2 991.1,670 991,700C990.9,730 991.2,755 991,780C990.8,805 989.2,834.6 989.5,850C989.8,865.4 991.1,867.7 993,872.5C994.9,877.3 996.5,878.6 1001,879C1005.5,879.4 1013.5,876.8 1020,875C1026.5,873.2 1033.4,870.5 1040,868C1046.6,865.5 1056.2,861.3 1059.5,860" stroke-width="2"/>
<polygon points="109.8,533 113.5,541 117.5,555.5 110,557.5 102.6,556.5 102,546 105.5,539" fill="#000" stroke="#000" stroke-width="1" stroke-linejoin="round"/>
<path d="M103.5,556C102.4,557.1 99.6,560.6 97,562.9C94.4,565.2 89.3,568.6 87.8,569.8" stroke-width="4.7"/>
<path d="M87.8,569.8C84.5,571.1 74,574.9 68.2,577.5C62.4,580.1 58.1,582.9 53.1,585.5C48.1,588.1 40.6,591.8 38.1,593" stroke-width="2.6"/>
<path d="M116.5,554.8C117.5,555.8 120.5,558.7 122.5,560.6C124.5,562.5 126,564.6 128.3,566.3C130.6,568 134.3,569.9 136.4,571C138.5,572.1 140.2,572.4 141,572.7" stroke-width="4.7"/>
<path d="M141,572.7C143.7,572.3 150.6,570.8 157.2,570.5C163.8,570.2 172.5,570.8 180.4,571C188.3,571.2 200.6,571.8 204.7,572" stroke-width="3.1"/>
<ellipse cx="89" cy="575" rx="3" ry="5" fill="#000" stroke="none"/>
<ellipse cx="150.3" cy="564.6" rx="3" ry="5" fill="#000" stroke="none"/>
<path d="M150.3,559.4C151.5,557.1 154.7,549.6 157.2,545.5C159.7,541.4 162.8,537.3 165.3,535C167.8,532.7 170.1,531.9 172.3,531.6C174.5,531.3 177.6,533.1 178.6,533.4" stroke-width="2"/>
<path d="M167.6,543.8L160,557" stroke-width="1.9"/>
<path d="M160.1,553L160,557L163.4,554.9" stroke-width="1.9"/>
<ellipse cx="161.9" cy="576.8" rx="3" ry="5" fill="#000" stroke="none"/>
<path d="M164.2,581.4C165,582.1 166.5,584.3 168.8,585.4C171.1,586.5 174.1,586.8 178,587.7C181.9,588.6 186.8,589.4 192,590.6C197.2,591.8 203.5,593.7 209.3,594.7C215.1,595.7 219.8,596.6 226.6,596.6C233.4,596.6 241.9,596.2 250,594.7C258.1,593.2 268.3,590.1 275,587.5C281.7,584.9 286.5,581.6 290,579C293.5,576.4 295,573.2 296,572" stroke-width="2"/>
<path d="M110.4,556C110.2,563.3 109.6,579.3 109,600C108.4,620.7 107.6,659.2 107,680C106.4,700.8 105.5,715.7 105.5,725C105.5,734.3 106.2,733.2 107,736C107.8,738.8 109.5,733 110,742C110.5,751 110.2,759.5 110.3,790C110.4,820.5 110.4,900.3 110.5,925C110.6,949.7 110.4,934.2 111,938C111.6,941.8 112.2,944.9 114,948C115.8,951.1 118.5,953.7 122,956.5C125.5,959.3 131.2,962.4 135,965C138.8,967.6 143.3,970.8 145,972" stroke-width="2"/>
<circle cx="227.3" cy="616" r="1.5" fill="#000" stroke="none"/>
<polygon points="1032,550 1037,560 1041,574 1023,574 1027,560" fill="#000" stroke="#000" stroke-width="1" stroke-linejoin="round"/>
<path d="M1033.7,513C1037,512.9 1046.5,512.3 1053.3,512.3C1060.1,512.3 1071,512.9 1074.6,513" stroke-width="2.5"/>
<path d="M1040,574C1045,574.2 1059.3,574.9 1069.7,575.4C1080.1,575.9 1097,576.6 1102.5,576.9" stroke-width="2.9"/>
<path d="M1023.8,573.6C1022.2,575.5 1017,581.4 1014,585C1011,588.6 1007.2,593.3 1005.8,595" stroke-width="2.9"/>
<path d="M1033,574C1033,595 1033.2,665.7 1033,700C1032.8,734.3 1032.2,755 1031.5,780C1030.8,805 1029.1,829.2 1028.5,850C1027.9,870.8 1028.1,889.2 1028,905C1027.9,920.8 1027.7,935.5 1028,945C1028.3,954.5 1028.7,957 1030,962C1031.3,967 1033.2,970.7 1036,975C1038.8,979.3 1042.8,983.2 1047,988C1051.2,992.8 1058.7,1001.3 1061,1004" stroke-width="2.5"/>
<path d="M1033.5,700C1035.4,699.8 1039.8,701.5 1045,699C1050.2,696.5 1058.4,690.8 1065,685C1071.6,679.2 1081.2,667.5 1084.5,664" stroke-width="2"/>
<path d="M992.7,531C994.6,530.7 1000.1,529.4 1004.2,529.4C1008.3,529.4 1013.5,529.9 1017.3,531C1021.1,532.1 1025.4,535.2 1027,536" stroke-width="2"/>
<circle cx="1028" cy="536.5" r="2" fill="#000" stroke="none"/>
<path d="M1010.7,518L1025.5,524.4" stroke-width="1.9"/>
<path d="M1021.5,524.7L1025.5,524.4L1023,521.3" stroke-width="1.9"/>
<circle cx="1022.2" cy="552.3" r="2.4" fill="#000" stroke="none"/>
<path d="M1047,979L1063,995" stroke-width="2.5"/>
<polygon points="1058.2,993.5 1063,995 1061.5,990.2" fill="#000" stroke="#000" stroke-width="1" stroke-linejoin="round"/>
<path d="M952,810C955,809.2 964.5,807.2 970,805C975.5,802.8 981.7,799.5 985,797C988.3,794.5 989.2,791.2 990,790" stroke-width="2"/>
<path d="M1004.5,770C1007.1,771.2 1015.6,776 1020,777C1024.4,778 1029.2,776.2 1031,776" stroke-width="2"/>
<ellipse cx="219" cy="815.5" rx="5.2" ry="10.5" fill="#000" stroke="none"/>
<path d="M216.4,806C215.2,803.2 212,795.7 209,789C206,782.3 201.8,773.1 198.4,765.7C195.1,758.3 190.5,748 188.9,744.5" stroke-width="2.9"/>
<path d="M223.9,806C225.3,803.2 229.5,795.4 232.3,789C235.1,782.6 238.3,774.9 240.8,767.8C243.3,760.7 245.2,753 247.2,746.6C249.1,740.2 250.9,734.1 252.5,729.7C254.1,725.3 256,721.6 256.7,720" stroke-width="2.6"/>
<path d="M215.4,825C213.6,826.8 208.3,830.3 204.8,835.6C201.3,840.9 197.7,848.7 194.2,856.8C190.7,864.9 187.8,876.1 183.6,884.4C179.3,892.7 171.2,903 168.7,906.7" stroke-width="2.9"/>
<path d="M223.9,825C225.3,828.2 229.1,836.6 232.3,844C235.5,851.4 239.5,861.6 243,869.6C246.5,877.6 251.8,888.1 253.5,891.8" stroke-width="2.9"/>
<circle cx="252.5" cy="744.5" r="3.5" fill="#000" stroke="none"/>
<circle cx="245" cy="768.9" r="3.5" fill="#000" stroke="none"/>
<circle cx="209" cy="810.2" r="3" fill="#000" stroke="none"/>
<circle cx="183.6" cy="859.4" r="4.5" fill="#000" stroke="none"/>
<path d="M192,785.8L205.8,798.6" stroke-width="2"/>
<path d="M201.5,797.4L205.8,798.6L204.3,794.3" stroke-width="2"/>
<path d="M252.5,745.6C254.4,746.1 259.2,748 264,748.7C268.8,749.4 276,750.1 281,749.8C286,749.4 291,747.9 293.8,746.6C296.6,745.3 297,742.8 297.6,742" stroke-width="2"/>
<path d="M245,768.9C246.8,770.5 251,774.3 255.6,778.4C260.2,782.5 266.2,788.7 272.6,793.3C279,797.9 286.7,803 293.8,806C300.9,809 307.3,810.2 315,811.3C322.7,812.4 333.5,812.2 340,812.5C346.5,812.8 351.7,812.9 354,813" stroke-width="2"/>
<path d="M80.3,838C81.1,837.7 81.7,836.2 85,836C88.3,835.8 94.2,835.8 100,836.5C105.8,837.2 113.1,838.5 120,840C126.9,841.5 134.1,843.1 141.2,845.2C148.3,847.3 155.3,850.3 162.4,852.6C169.5,854.9 180.1,857.9 183.6,859" stroke-width="2"/>
<path d="M84.5,881L84.5,857.5" stroke-width="2.2"/>
<path d="M86.6,861.5L84.5,857.5L82.4,861.5" stroke-width="2.2"/>
<path d="M101,964L80,945" stroke-width="2.6"/>
<polygon points="85.3,946.3 80,945 81.9,950.2" fill="#000" stroke="#000" stroke-width="1" stroke-linejoin="round"/>
<path d="M130,947L150,965" stroke-width="2.5"/>
<polygon points="145.1,963.8 150,965 148.3,960.3" fill="#000" stroke="#000" stroke-width="1" stroke-linejoin="round"/>
<path d="M354.5,840C354.9,841.5 355.4,846.8 357,849C358.6,851.2 360.2,852.3 364,853C367.8,853.7 374.8,853.3 380,853C385.2,852.7 390.8,851.7 395,851C399.2,850.3 400.8,849.2 405,849C409.2,848.8 417.5,849.4 420,849.5" stroke-width="2"/>
<ellipse cx="726.2" cy="770.3" rx="4.5" ry="6.2" fill="#000" stroke="none"/>
<path d="M728.6,693C726,693.1 717.8,693.9 713.2,693.9C708.6,693.9 703,693.1 700.9,693" stroke-width="2"/>
<path d="M728.6,720C731.2,719.8 739.1,719.3 744,718.5C748.9,717.7 755.7,715.9 758,715.4" stroke-width="2"/>
<path d="M724,774C721.7,774.8 714.4,777.6 710,778.6C705.6,779.6 701.1,779.2 697.8,780.2C694.5,781.2 691.3,784 690,784.8" stroke-width="2.3"/>
<path d="M729.3,772.5C731.2,773 736,775.6 741,775.6C746,775.6 756.4,773 759.5,772.5" stroke-width="2.3"/>
<path d="M742.5,776.2C743.5,777.4 746.9,780.9 748.7,783.3C750.5,785.7 752.5,789.2 753.3,790.4" stroke-width="2.2"/>
<path d="M727,775.6C727,779.7 726.9,793.3 727,800C727.1,806.7 727.4,813 727.5,815.6" stroke-width="2"/>
<path d="M732.3,824.9L732.6,886.5" stroke-width="2"/>
<ellipse cx="826.7" cy="864.3" rx="4.6" ry="7.2" fill="#000" stroke="none" transform="rotate(20 826.7 864.3)"/>
<circle cx="822.7" cy="852.6" r="2.2" fill="#000" stroke="none"/>
<circle cx="836" cy="830" r="3" fill="#000" stroke="none"/>
<path d="M815,832.6L825.7,845" stroke-width="2"/>
<path d="M821.5,843.4L825.7,845L824.7,840.6" stroke-width="2"/>
<circle cx="884.3" cy="803.3" r="3" fill="#000" stroke="none"/>
<path d="M771.8,820.3C774.9,821.6 784.6,825.7 790.3,828C795.9,830.3 801.1,830.9 805.7,834C810.3,837.1 814.9,842.6 818,846.5C821.1,850.4 823.2,855.5 824.2,857.3" stroke-width="2"/>
<path d="M784,820.3C787.1,820.4 796.4,821 802.6,821.2C808.8,821.5 816.4,821.2 821,821.8C825.6,822.4 827.9,823.6 830.4,824.9C832.9,826.2 835.1,828.7 836,829.5" stroke-width="2"/>
<path d="M828.8,857.3C829.8,854.5 832.2,846.2 835,840.3C837.8,834.4 842.2,826.9 845.8,821.8C849.4,816.7 854,815.1 856.6,809.5C859.2,803.9 859.7,794.7 861.2,788C862.7,781.3 864.3,773.8 865.8,769.4C867.3,765 869.6,763 870.4,761.7" stroke-width="2.2"/>
<path d="M856.6,808C859.4,807.7 868.9,807.2 873.5,806.4C878.1,805.6 880.9,805.4 884.3,803.3C887.6,801.2 892,795.5 893.6,794" stroke-width="2"/>
<path d="M884.3,803.3C886.6,804.6 892.3,809.2 898.2,811C904.1,812.8 912.8,813.9 919.8,814C926.8,814.1 934.6,812.2 940,811.5C945.4,810.8 950,810.2 952,810" stroke-width="2"/>
<path d="M830.4,855.7C831.9,854.2 835,848.5 839.6,846.5C844.2,844.5 852.4,843.9 858,843.4C863.6,842.9 868.9,842.4 873.5,843.4C878.1,844.4 882,847.7 885.9,849.5C889.8,851.3 894.8,853.4 896.6,854.2" stroke-width="2"/>
<path d="M822.7,872.7C821.4,876 819.4,886.8 815,892.7C810.6,898.6 803.7,903.4 796.5,908C789.3,912.6 779,917.1 771.8,920.4C764.6,923.7 756.4,926.7 753.3,928" stroke-width="2.2"/>
<path d="M818,895.8C818.3,898.4 820.1,906.1 819.6,911.2C819.1,916.3 817,922.1 815,926.6C813,931.1 808.6,936.3 807.3,938.3" stroke-width="2"/>
<path d="M868.9,969L847.3,975.3" stroke-width="2.5"/>
<polygon points="850.9,971.8 847.3,975.3 852.2,976.3" fill="#000" stroke="#000" stroke-width="1" stroke-linejoin="round"/>
<path d="M697.8,971.3L680.9,954.4" stroke-width="2.6"/>
<polygon points="686.2,956 680.9,954.4 682.5,959.7" fill="#000" stroke="#000" stroke-width="1" stroke-linejoin="round"/>
<path d="M551,960L567,979" stroke-width="2.5"/>
<polygon points="562.4,977.1 567,979 566,974.1" fill="#000" stroke="#000" stroke-width="1" stroke-linejoin="round"/>
<path d="M612,961L631,979" stroke-width="2.5"/>
<polygon points="626.2,977.7 631,979 629.4,974.3" fill="#000" stroke="#000" stroke-width="1" stroke-linejoin="round"/>
<path d="M626,904L626,886" stroke-width="2.2"/>
<path d="M628.1,890L626,886L623.9,890" stroke-width="2.2"/>
<path d="M73,952C75,953.7 80.5,958.3 85,962C89.5,965.7 97.5,972 100,974" stroke-width="2.9"/>
<path d="M122,956.5C124.2,957.9 131.2,962.4 135,965C138.8,967.6 143.3,970.8 145,972" stroke-width="2.9"/>
<path d="M546,972C547.5,973.7 551.8,978.3 555,982C558.2,985.7 563.3,992 565,994" stroke-width="3.1"/>
<path d="M610,974.5C611.3,975.8 615.3,979.6 618,982C620.7,984.4 624.7,987.8 626,989" stroke-width="3.1"/>
<path d="M676.2,972.8L691.7,981.5" stroke-width="3.1"/>
<path d="M852,965C847.9,965.8 834.8,968.4 827.3,969.8C819.8,971.2 810.6,972.9 807.3,973.5" stroke-width="2.8"/>
<path d="M1041,981C1042,982.2 1043.7,984.2 1047,988C1050.3,991.8 1058.7,1001.3 1061,1004" stroke-width="3.3"/>
<path d="M1266,398.5C1260,398.3 1243.5,397.7 1230,397.5C1216.5,397.3 1196.7,397.3 1185,397.5C1173.3,397.7 1166.2,397.8 1160,398.5C1153.8,399.2 1151.2,400.2 1148,402C1144.8,403.8 1142.3,406 1140.5,409C1138.7,412 1137.8,413.2 1137.2,420C1136.6,426.8 1137,420 1137,450C1137,480 1137,552 1137,600C1137,648 1136.8,715 1136.8,738" stroke-width="4.5" stroke="#1ec832"/>
<path d="M1166,398C1166.8,398.8 1169.3,400.7 1170.5,403C1171.7,405.3 1172.2,408.8 1173,412C1173.8,415.2 1175.1,420.3 1175.5,422" stroke-width="4" stroke="#1ec832"/>
<circle cx="1266.8" cy="399" r="5.6" fill="#1ec832" stroke="none"/>
<circle cx="1177" cy="425" r="4.4" fill="#1ec832" stroke="none"/>
<path d="M1273.3,304 L1281.6,304 L1282,420 L1283,465 C1284,490 1290,510 1300,523 L1307.5,531.5 C1296,529.5 1286,531 1281.5,538 L1280,548 L1274.5,548 L1273,538 C1268,531 1260,529.5 1250.5,532 L1257,523 C1266,508 1271,490 1272.5,465 Z" fill="#1630e8" stroke="#1630e8" stroke-width="1"/>
<path d="M1277.2,545C1277.2,554.2 1277.1,574.2 1277,600C1276.9,625.8 1276.8,676.7 1276.8,700C1276.8,723.3 1277,733.3 1277,740" stroke-width="4.9" stroke="#1630e8"/>
<path d="M1276.5,628C1275.6,630.5 1274.4,639.1 1271,643C1267.6,646.9 1261.2,649.8 1256,651.5C1250.8,653.2 1245.2,653.6 1240,653C1234.8,652.4 1229.8,651.3 1225,648C1220.2,644.7 1214.5,639.3 1211,633C1207.5,626.7 1205.8,618.8 1204,610C1202.2,601.2 1201.3,589.7 1200.5,580C1199.7,570.3 1199.5,558 1199.3,552C1199,546 1199,545.3 1199,544" stroke-width="3.4" stroke="#1630e8"/>
<path d="M1199,544.3C1197.1,543.2 1190.8,540.9 1187.7,538C1184.6,535.1 1182.2,531.7 1180.5,527C1178.8,522.3 1178.2,514.5 1177.8,510C1177.4,505.5 1177.6,503.3 1178.2,500C1178.8,496.7 1180.9,492 1181.4,490.4" stroke-width="3.4" stroke="#1630e8"/>
<path d="M1199,544.3C1200.7,543.2 1206.8,540.2 1209,538C1211.2,535.8 1211.9,532.2 1212.5,531" stroke-width="3.4" stroke="#1630e8"/>
<circle cx="1212.7" cy="530" r="4" fill="#1630e8" stroke="none"/>
<path d="M1181.4,490.4C1180.5,489.4 1177.6,487.7 1176,484.5C1174.4,481.3 1172.4,475.4 1171.8,471C1171.2,466.6 1172.2,462 1172.5,458C1172.8,454 1173.4,448.8 1173.6,447" stroke-width="3.4" stroke="#1630e8"/>
<path d="M1181.4,490.4C1182.8,489.8 1187,488.8 1190,486.6C1193,484.5 1197.8,479 1199.3,477.5" stroke-width="3.4" stroke="#1630e8"/>
<circle cx="1173.9" cy="445.3" r="4" fill="#1630e8" stroke="none"/>
<circle cx="1199.7" cy="476.6" r="4" fill="#1630e8" stroke="none"/>
<ellipse cx="1190.7" cy="436.8" rx="9.6" ry="12" fill="#e81e32" stroke="none"/>
<path d="M1196,430C1197.5,429.8 1198.5,429 1205,428.6C1211.5,428.2 1225.5,427.9 1235,427.5C1244.5,427.1 1257.5,426.7 1262,426.5" stroke-width="4.6" stroke="#e81e32"/>
<circle cx="1264.5" cy="426.5" r="6.2" fill="#e81e32" stroke="none"/>
<path d="M1212.7,428.5C1212.7,430.4 1212.6,436.4 1212.5,440C1212.4,443.6 1212.1,448.3 1212,450" stroke-width="4.6" stroke="#e81e32"/>
<circle cx="1212" cy="451.5" r="4" fill="#e81e32" stroke="none"/>
<ellipse cx="1214" cy="469" rx="10" ry="11" fill="#e81e32" stroke="none"/>
<path d="M1220,468.5C1223.3,468.3 1233,467.8 1240,467.5C1247,467.2 1258.3,466.9 1262,466.8" stroke-width="4.6" stroke="#e81e32"/>
<circle cx="1263.5" cy="466.6" r="6.2" fill="#e81e32" stroke="none"/>
<path d="M1232.7,468C1232.6,470.5 1232.8,479.3 1232.3,483C1231.8,486.7 1230.5,488.3 1229.5,490C1228.5,491.7 1227,492.5 1226.5,493" stroke-width="4.6" stroke="#e81e32"/>
<circle cx="1225.7" cy="493.4" r="4" fill="#e81e32" stroke="none"/>
<ellipse cx="1217.7" cy="510.4" rx="10" ry="11" fill="#e81e32" stroke="none"/>
<path d="M1224,510.5C1226.7,510.1 1235.3,509 1240,508C1244.7,507 1250,504.9 1252,504.3" stroke-width="4.6" stroke="#e81e32"/>
<circle cx="1254.5" cy="503.4" r="6" fill="#e81e32" stroke="none"/>
<path d="M1235,509C1235,512.5 1234.9,522.3 1234.8,530C1234.7,537.7 1234.5,550.8 1234.5,555" stroke-width="3.6" stroke="#e81e32"/>
<path d="M1189.5,627.5L1189.5,594" stroke-width="2.1"/>
<path d="M1192.8,600.2L1189.5,594L1186.2,600.2" stroke-width="2.1"/>
<path d="M1151,724L1152.5,685" stroke-width="2.8"/>
<polygon points="1156.9,694 1152.5,685 1147.5,693.6" fill="#000" stroke="#000" stroke-width="1" stroke-linejoin="round"/>
<path d="M1290,689L1290.5,726" stroke-width="2.2"/>
<polygon points="1285.7,717.2 1290.5,726 1295.1,717.1" fill="#000" stroke="#000" stroke-width="1" stroke-linejoin="round"/>
<path d="M1401,526L1431,526" stroke-width="4.7"/>
<polygon points="1447,526.6 1428,519.6 1430,526 1428,532.4" fill="#000" stroke="#000" stroke-width="1" stroke-linejoin="round"/>
<path d="M1402.6,537.8L1440,538" stroke-width="3.4"/>
<path d="M1440,538L1600,538.6" stroke-width="4.5"/>
<path d="M1600,538.6L1743.5,539.5" stroke-width="3.3"/>
<path d="M1753.8,534L1743.2,539.5L1752.7,548.9" stroke-width="3.3"/>
<path d="M1459,538C1459.3,544.2 1460.2,563 1461,575C1461.8,587 1463,602.2 1464,610C1465,617.8 1466.5,619.6 1467,621.5" stroke-width="4.2"/>
<path d="M1467,621.6L1500,622L1533,622.6" stroke-width="4"/>
<path d="M1539.4,614.8L1532.5,622.6L1541.7,631" stroke-width="3.6"/>
<path d="M1501.8,538L1501.8,553.5" stroke-width="4"/>
<path d="M1495.5,561.6L1501.8,553.5L1508.2,560.5" stroke-width="3.6"/>
<path d="M1521.5,544.9L1521.5,555.2" stroke-width="3.4"/>
<polygon points="1521.5,566.2 1515.9,552.2 1521.5,554.2 1527.1,552.2" fill="#000" stroke="#000" stroke-width="1" stroke-linejoin="round"/>
<circle cx="1505.3" cy="575.5" r="11.3" fill="#000" stroke="none"/>
<path d="M1514,572.2L1650,572.3" stroke-width="4.5"/>
<path d="M1650,572.2L1747.6,572.4" stroke-width="3.3"/>
<path d="M1759,563.7L1747.4,572.4L1754.9,580.7" stroke-width="3.3"/>
<path d="M1551.6,561L1576,561" stroke-width="4.7"/>
<polygon points="1592,561.6 1573,554.6 1575,561 1573,567.4" fill="#000" stroke="#000" stroke-width="1" stroke-linejoin="round"/>
<path d="M1548,572L1548.3,589.4" stroke-width="4"/>
<path d="M1542.3,598.6L1548.3,589.4L1555.6,597.5" stroke-width="3.6"/>
<path d="M1563.7,576.6L1563.7,590" stroke-width="3.4"/>
<polygon points="1563.7,601 1558.1,587 1563.7,589 1569.3,587" fill="#000" stroke="#000" stroke-width="1" stroke-linejoin="round"/>
<circle cx="1552.7" cy="613.6" r="11" fill="#000" stroke="none"/>
<path d="M1484,611.3L1507.2,611.3" stroke-width="4.7"/>
<polygon points="1523.2,611.9 1504.2,604.9 1506.2,611.3 1504.2,617.7" fill="#000" stroke="#000" stroke-width="1" stroke-linejoin="round"/>
<path d="M1562,612.6L1660,612.5" stroke-width="4.4"/>
<path d="M1660,612.5L1747.6,612.5" stroke-width="3.3"/>
<path d="M1758,600.8L1747.4,612.5L1757,619.9" stroke-width="3.3"/>
<path d="M1604.4,602.5L1634,602.5" stroke-width="4.7"/>
<polygon points="1650,603.1 1631,596.1 1633,602.5 1631,608.9" fill="#000" stroke="#000" stroke-width="1" stroke-linejoin="round"/>
<path d="M1597.6,613L1597,632.6" stroke-width="3.8"/>
<path d="M1587.4,647.4L1597,632.6L1609.7,643.2" stroke-width="3.4"/>
<path d="M1620.3,621L1620.3,637.5" stroke-width="3.4"/>
<polygon points="1620.3,648.5 1614.7,634.5 1620.3,636.5 1625.9,634.5" fill="#000" stroke="#000" stroke-width="1" stroke-linejoin="round"/>
<circle cx="1600" cy="660" r="10.3" fill="#000" stroke="none"/>
<path d="M1608,659.5L1700,658" stroke-width="3.6"/>
<path d="M1700,658L1747.6,657" stroke-width="3.3"/>
<path d="M1756,647.4L1747.4,657L1759,666.5" stroke-width="3.3"/>
<path d="M1649,647.4L1677.4,647.4" stroke-width="4.7"/>
<polygon points="1693.4,648 1674.4,641 1676.4,647.4 1674.4,653.8" fill="#000" stroke="#000" stroke-width="1" stroke-linejoin="round"/>
<ellipse cx="1772.7" cy="591" rx="59.5" ry="97.8" stroke-width="3" stroke-dasharray="4.6 4.0" stroke-linecap="butt" transform="rotate(2 1772.7 591)"/>
<path d="M1414,782.6L1438.5,782.6" stroke-width="4.7"/>
<polygon points="1454.5,783.2 1435.5,776.2 1437.5,782.6 1435.5,789" fill="#000" stroke="#000" stroke-width="1" stroke-linejoin="round"/>
<path d="M1392.4,792.4C1402,792.6 1430.5,793.3 1450,793.6C1469.5,793.9 1499.4,794.2 1509.3,794.3" stroke-width="2.2"/>
<path d="M1521.8,786L1509.3,794.3L1518.9,799.5" stroke-width="3.4"/>
<circle cx="1539.7" cy="792.4" r="14.6" fill="#000" stroke="none"/>
<path d="M1551,791.8L1700,790.3L1889,788.2" stroke-width="4"/>
<path d="M1610.4,778.7L1639.7,778.7" stroke-width="4.7"/>
<polygon points="1655.7,779.3 1636.7,772.3 1638.7,778.7 1636.7,785.1" fill="#000" stroke="#000" stroke-width="1" stroke-linejoin="round"/>
<path d="M1721.2,791.8C1721.4,793.9 1721.4,800 1722.2,804.3C1723,808.6 1724.9,814.8 1726,817.8C1727.1,820.8 1728.5,821.8 1729,822.6" stroke-width="3.9"/>
<path d="M1728,823.6C1726.9,826.5 1723.1,836.9 1721.2,841C1719.3,845.1 1717.3,846.8 1716.5,848" stroke-width="3.9"/>
<path d="M1711.6,854.4L1719.3,842.9L1729.9,854.4" stroke-width="3.6"/>
<path d="M1729,822.6C1730.9,823.7 1737,826.4 1740.5,829.4C1744,832.4 1747.7,836.4 1750.1,840.9C1752.5,845.4 1753.9,850.5 1755,856.3C1756.1,862.1 1756.6,869.2 1756.9,875.6C1757.2,882 1757.1,889.8 1756.9,894.9C1756.7,900 1757,903.7 1755.9,906.4C1754.8,909.1 1755.9,910.2 1750.1,911.3C1744.3,912.4 1730.8,912.6 1721.2,913.2C1711.6,913.8 1700.3,914.6 1692.3,915.1C1684.3,915.6 1676.2,915.9 1673,916.1" stroke-width="3.9"/>
<path d="M1662.4,905.5L1673,916.1L1660.5,925.7" stroke-width="3.8"/>
<circle cx="1717.4" cy="869.4" r="14.4" fill="#000" stroke="none"/>
<path d="M1704,869.8C1700.5,870.3 1691.1,872.4 1682.7,872.7C1674.3,873 1661.5,872.3 1653.8,871.8C1646.1,871.3 1642.8,872.4 1636.4,869.8C1630,867.2 1622.9,861.4 1615.2,856.3C1607.5,851.2 1597.6,844.8 1590.2,839C1582.8,833.2 1576.4,826.2 1570.9,821.7C1565.4,817.2 1559.7,813.6 1557.4,812" stroke-width="3.9"/>
<path d="M1544.9,810.5L1557.4,812L1556.5,800.5" stroke-width="3.8"/>
<path d="M1682.7,861.2L1666,861.2" stroke-width="4.7"/>
<polygon points="1650,861.8 1669,854.8 1667,861.2 1669,867.6" fill="#000" stroke="#000" stroke-width="1" stroke-linejoin="round"/>
<path d="M1637.4,870.8L1637.4,885.2" stroke-width="3.6"/>
<path d="M1633.5,894.9L1637.4,885.2L1649,893" stroke-width="3.4"/>
<path d="M1624.9,875.6L1624.9,888.7" stroke-width="3.4"/>
<polygon points="1624.9,898.7 1619.5,885.7 1624.9,887.7 1630.3,885.7" fill="#000" stroke="#000" stroke-width="1" stroke-linejoin="round"/>
<circle cx="1641.3" cy="910.3" r="14.4" fill="#000" stroke="none"/>
<path d="M1628.5,905.8C1624.7,904 1614.2,899 1605.6,894.9C1597,890.8 1586.3,886.2 1576.7,881.4C1567.1,876.6 1555.8,871.1 1547.8,866C1539.8,860.9 1533,855.8 1528.5,850.6C1524,845.5 1521.9,839.9 1520.8,835.1C1519.7,830.3 1520.7,825.4 1521.8,821.7C1522.9,818 1526.6,814.5 1527.6,813" stroke-width="3.9"/>
<path d="M1522.8,803.4L1527.6,813L1536.2,811" stroke-width="3.8"/>
<path d="M1596,880.4L1582.4,873.8" stroke-width="4.7"/>
<polygon points="1568,866.9 1587.9,869.4 1583.3,874.3 1582.3,880.9" fill="#000" stroke="#000" stroke-width="1" stroke-linejoin="round"/>
</g>
<g fill="#000" stroke="none">
<text class="r" x="34" y="71.5" font-size="21" stroke="#000" stroke-width="0.8">I</text>
<text class="r" x="30.5" y="116.5" font-size="21" textLength="11.5" lengthAdjust="spacingAndGlyphs" stroke="#000" stroke-width="0.8">II</text>
<text class="r" x="30" y="186.5" font-size="21" textLength="12.5" lengthAdjust="spacingAndGlyphs" stroke="#000" stroke-width="0.7">III</text>
<text class="r" x="28" y="261" font-size="21" textLength="30" lengthAdjust="spacingAndGlyphs" stroke="#000" stroke-width="0.5">IVa</text>
<text class="r" x="25" y="364" font-size="21" textLength="27" lengthAdjust="spacingAndGlyphs" stroke="#000" stroke-width="0.7">IVb</text>
<text class="r" x="21" y="546" font-size="25" stroke="#000" stroke-width="0.8">V</text>
<text class="r" x="15" y="765" font-size="25" textLength="21" lengthAdjust="spacingAndGlyphs" stroke="#000" stroke-width="0.8">VI</text>
<text class="s" x="128" y="77" font-size="15" textLength="19" lengthAdjust="spacingAndGlyphs" stroke="#000" stroke-width="0.2">s4</text>
<text class="s" x="292" y="76" font-size="15" textLength="20" lengthAdjust="spacingAndGlyphs" stroke="#000" stroke-width="0.2">s4</text>
<text class="s" x="364" y="76" font-size="15" textLength="20" lengthAdjust="spacingAndGlyphs" stroke="#000" stroke-width="0.2">s4</text>
<text class="s" x="540" y="78" font-size="15" textLength="20" lengthAdjust="spacingAndGlyphs" stroke="#000" stroke-width="0.2">s4</text>
<text class="s" x="611" y="74" font-size="15" textLength="21" lengthAdjust="spacingAndGlyphs" stroke="#000" stroke-width="0.2">s4</text>
<text class="s" x="118" y="147" font-size="14" textLength="19" lengthAdjust="spacingAndGlyphs" stroke="#000" stroke-width="0.2">s3</text>
<text class="s" x="256" y="108" font-size="15" textLength="20" lengthAdjust="spacingAndGlyphs" stroke="#000" stroke-width="0.2">s3</text>
<text class="s" x="80" y="210" font-size="15" textLength="21" lengthAdjust="spacingAndGlyphs" stroke="#000" stroke-width="0.2" transform="rotate(-12 90.5 205.5)">s3</text>
<text class="s" x="254" y="132" font-size="15" textLength="19" lengthAdjust="spacingAndGlyphs" stroke="#000" stroke-width="0.2">s3</text>
<text class="s" x="293" y="147" font-size="27" textLength="14" lengthAdjust="spacingAndGlyphs" stroke="#fff" stroke-width="0.2">2</text>
<text class="s" x="245" y="188" font-size="15" textLength="20" lengthAdjust="spacingAndGlyphs" stroke="#000" stroke-width="0.2">s3</text>
<text class="s" x="298" y="198" font-size="21">a</text>
<text class="s" x="322" y="122" font-size="15" textLength="20" lengthAdjust="spacingAndGlyphs" stroke="#000" stroke-width="0.2" transform="rotate(-12 332 117.5)">s4</text>
<text class="s" x="365" y="116" font-size="30" textLength="14" lengthAdjust="spacingAndGlyphs" stroke="#fff" stroke-width="0.2">2</text>
<text class="s" x="377" y="116.9" font-size="37.5">′</text>
<text class="s" x="357" y="190" font-size="21">a</text>
<text class="s" x="400" y="150" font-size="16" textLength="24" lengthAdjust="spacingAndGlyphs" stroke="#000" stroke-width="0.2">s7</text>
<text class="s" x="497" y="160" font-size="14" textLength="18" lengthAdjust="spacingAndGlyphs" stroke="#000" stroke-width="0.2">s5</text>
<text class="s" x="873.5" y="27" font-size="21" textLength="28" lengthAdjust="spacingAndGlyphs">22</text>
<text class="s" x="904" y="89" font-size="15" textLength="23" lengthAdjust="spacingAndGlyphs" stroke="#000" stroke-width="0.2">s3</text>
<text class="s" x="874" y="104" font-size="15" textLength="24" lengthAdjust="spacingAndGlyphs" stroke="#000" stroke-width="0.2">s4</text>
<text class="s" x="822.5" y="105" font-size="21">a</text>
<text class="s" x="881.5" y="223" font-size="25" textLength="16" lengthAdjust="spacingAndGlyphs" stroke="#fff" stroke-width="0.2">4</text>
<text class="s" x="818.8" y="221" font-size="15" textLength="19" lengthAdjust="spacingAndGlyphs" stroke="#000" stroke-width="0.2">s1</text>
<text class="s" x="819" y="286.6" font-size="15" textLength="19" lengthAdjust="spacingAndGlyphs" stroke="#000" stroke-width="0.2">s3</text>
<text class="s" x="858" y="288" font-size="14" textLength="15" lengthAdjust="spacingAndGlyphs" stroke="#000" stroke-width="0.2" transform="rotate(-35 865.5 283.8)">s2</text>
<text class="s" x="878.6" y="311" font-size="21">a</text>
<text class="s" x="88.6" y="389.5" font-size="15" textLength="14" lengthAdjust="spacingAndGlyphs" stroke="#000" stroke-width="0.2">s1</text>
<text class="s" x="112.5" y="398.6" font-size="15" textLength="18" lengthAdjust="spacingAndGlyphs" stroke="#000" stroke-width="0.2">s2</text>
<text class="s" x="162.6" y="338.5" font-size="15" textLength="14" lengthAdjust="spacingAndGlyphs" stroke="#000" stroke-width="0.2">s1</text>
<text class="s" x="190" y="392.5" font-size="27" textLength="14" lengthAdjust="spacingAndGlyphs" stroke="#fff" stroke-width="0.2">5</text>
<text class="s" x="182" y="437.2" font-size="21">a</text>
<text class="s" x="403.6" y="548.4" font-size="29" textLength="30" lengthAdjust="spacingAndGlyphs" stroke="#fff" stroke-width="0.2">25</text>
<text class="s" x="406.8" y="436" font-size="21">a</text>
<text class="s" x="365.4" y="476.3" font-size="14" textLength="17" lengthAdjust="spacingAndGlyphs" stroke="#000" stroke-width="0.2">s5</text>
<text class="s" x="377" y="516.6" font-size="15" textLength="20" lengthAdjust="spacingAndGlyphs" stroke="#000" stroke-width="0.2" transform="rotate(-10 387 512.1)">s4</text>
<text class="s" x="534" y="439.2" font-size="35" textLength="16" lengthAdjust="spacingAndGlyphs" stroke="#fff" stroke-width="0.6">8</text>
<text class="s" x="547.5" y="431.4" font-size="37.5">′</text>
<text class="s" x="484" y="506" font-size="15" textLength="19" lengthAdjust="spacingAndGlyphs" stroke="#000" stroke-width="0.2">s6</text>
<text class="s" x="513.8" y="566.4" font-size="21">a</text>
<text class="s" x="601.5" y="441" font-size="35" textLength="15" lengthAdjust="spacingAndGlyphs" stroke="#fff" stroke-width="0.6">8</text>
<text class="s" x="616.5" y="431.4" font-size="37.5">′</text>
<text class="s" x="559.4" y="501.7" font-size="15" textLength="17" lengthAdjust="spacingAndGlyphs" stroke="#000" stroke-width="0.2">s6</text>
<text class="s" x="583.7" y="587.6" font-size="21">a</text>
<text class="s" x="598" y="565" font-size="15" textLength="22" lengthAdjust="spacingAndGlyphs" stroke="#000" stroke-width="0.2" transform="rotate(-80 609 559.5)">s3</text>
<text class="s" x="631" y="507" font-size="15" textLength="24" lengthAdjust="spacingAndGlyphs" stroke="#000" stroke-width="0.2">s2</text>
<text class="s" x="711" y="313" font-size="29" textLength="32" lengthAdjust="spacingAndGlyphs" transform="rotate(-25 727 302.5)">24</text>
<text class="s" x="688" y="346" font-size="18" textLength="22" lengthAdjust="spacingAndGlyphs" stroke="#000" stroke-width="0.3" transform="rotate(-60 699 340)">s1</text>
<text class="s" x="722.5" y="366.6" font-size="14" textLength="11" lengthAdjust="spacingAndGlyphs" stroke="#000" stroke-width="0.2">a</text>
<text class="s" x="702.3" y="427.3" font-size="15" textLength="18" lengthAdjust="spacingAndGlyphs" stroke="#000" stroke-width="0.2">s1</text>
<text class="s" x="772" y="347" font-size="16" textLength="21" lengthAdjust="spacingAndGlyphs" stroke="#000" stroke-width="0.2" transform="rotate(-30 782.5 341)">s2</text>
<text class="s" x="795.8" y="387.8" font-size="28" textLength="14" lengthAdjust="spacingAndGlyphs" stroke="#fff" stroke-width="0.2">5</text>
<text class="s" x="809.6" y="387.9" font-size="35.4">′</text>
<text class="s" x="766" y="462" font-size="21">a</text>
<text class="s" x="884.6" y="454" font-size="14" textLength="16" lengthAdjust="spacingAndGlyphs" stroke="#000" stroke-width="0.2" transform="rotate(-15 892.6 449.8)">s2</text>
<text class="s" x="905.9" y="501.5" font-size="15" textLength="18" lengthAdjust="spacingAndGlyphs" stroke="#000" stroke-width="0.2" transform="rotate(-25 914.9 497)">s2</text>
<text class="s" x="923.9" y="436" font-size="21">a</text>
<text class="s" x="997.6" y="378.6" font-size="27" textLength="13" lengthAdjust="spacingAndGlyphs" stroke="#fff" stroke-width="0.2">5</text>
<text class="s" x="1010.9" y="378.7" font-size="27.1">″</text>
<text class="s" x="955" y="380.3" font-size="15" textLength="18" lengthAdjust="spacingAndGlyphs" stroke="#000" stroke-width="0.2" transform="rotate(-12 964 375.8)">s3</text>
<text class="s" x="997.6" y="429.4" font-size="21">a</text>
<text class="s" x="119.6" y="527.6" font-size="35" textLength="16" lengthAdjust="spacingAndGlyphs" stroke="#fff" stroke-width="0.6">8</text>
<text class="s" x="93" y="588.3" font-size="14" textLength="16" lengthAdjust="spacingAndGlyphs" stroke="#000" stroke-width="0.2" transform="rotate(-20 101 584.1)">s3</text>
<text class="s" x="133" y="556" font-size="15" textLength="19" lengthAdjust="spacingAndGlyphs" stroke="#000" stroke-width="0.2" transform="rotate(-38 142.5 550)">s2</text>
<text class="s" x="140" y="594" font-size="15" textLength="22" lengthAdjust="spacingAndGlyphs" stroke="#000" stroke-width="0.2" transform="rotate(-8 151 589.5)">s4</text>
<text class="s" x="115" y="630" font-size="21">a</text>
<text class="s" x="1058" y="555.6" font-size="35" textLength="16" lengthAdjust="spacingAndGlyphs" stroke="#fff" stroke-width="0.6">8</text>
<text class="s" x="1075.2" y="545.1" font-size="31.2">″</text>
<text class="s" x="1042" y="627.7" font-size="21">a</text>
<text class="s" x="1000" y="566" font-size="14" textLength="18" lengthAdjust="spacingAndGlyphs" stroke="#000" stroke-width="0.2" transform="rotate(-55 1009 561)">s4</text>
<text class="r" x="235.5" y="830.4" font-size="26" textLength="20" lengthAdjust="spacingAndGlyphs" stroke="#000" stroke-width="0.4">18</text>
<text class="s" x="257.8" y="736" font-size="15" textLength="20" lengthAdjust="spacingAndGlyphs" stroke="#000" stroke-width="0.2" transform="rotate(-8 267.8 731.5)">s4</text>
<text class="s" x="237.6" y="791" font-size="14" textLength="18" lengthAdjust="spacingAndGlyphs" stroke="#000" stroke-width="0.2">s5</text>
<text class="s" x="184.6" y="825" font-size="15" textLength="20" lengthAdjust="spacingAndGlyphs" stroke="#000" stroke-width="0.2" transform="rotate(-15 194.6 820.5)">s2</text>
<text class="s" x="161.3" y="880" font-size="15" textLength="21" lengthAdjust="spacingAndGlyphs" stroke="#000" stroke-width="0.2" transform="rotate(-15 171.8 875.5)">s5</text>
<text class="s" x="234.5" y="710" font-size="21">a</text>
<text class="s" x="81" y="912" font-size="25">e</text>
<text class="r" x="49" y="960" font-size="29" textLength="17" lengthAdjust="spacingAndGlyphs" font-style="italic" stroke="#000" stroke-width="0.3">a</text>
<text class="r" x="737.9" y="755.5" font-size="25" textLength="19" lengthAdjust="spacingAndGlyphs" stroke="#000" stroke-width="0.4">15</text>
<text class="s" x="706.4" y="812" font-size="19">a</text>
<text class="r" x="839.6" y="883.5" font-size="27" textLength="20" lengthAdjust="spacingAndGlyphs" stroke="#000" stroke-width="0.4">17</text>
<text class="s" x="796.5" y="866.5" font-size="15" textLength="20" lengthAdjust="spacingAndGlyphs" stroke="#000" stroke-width="0.2" transform="rotate(-15 806.5 862)">s2</text>
<text class="s" x="824.2" y="817" font-size="15" textLength="21" lengthAdjust="spacingAndGlyphs" stroke="#000" stroke-width="0.2" transform="rotate(-8 834.7 812.5)">s3</text>
<text class="s" x="893.6" y="806.4" font-size="15" textLength="24" lengthAdjust="spacingAndGlyphs" stroke="#000" stroke-width="0.2" transform="rotate(-12 905.6 801.9)">s4</text>
<text class="r" x="643" y="971.3" font-size="30" textLength="16" lengthAdjust="spacingAndGlyphs" font-style="italic" stroke="#000" stroke-width="0.3">a</text>
<text class="s" x="659.2" y="970.1" font-size="31.2">′</text>
<text class="s" x="624" y="925" font-size="25">e</text>
<text class="s" x="12.6" y="1017.2" font-size="69.5">A</text>
<text class="s" x="1194.5" y="422.8" font-size="25" textLength="19.5" lengthAdjust="spacingAndGlyphs" stroke="#fff" stroke-width="0.2">i1</text>
<text class="s" x="1228.6" y="460.5" font-size="34" textLength="26.5" lengthAdjust="spacingAndGlyphs" stroke="#fff" stroke-width="0.6">i2</text>
<text class="s" x="1186.4" y="519" font-size="22" textLength="18" lengthAdjust="spacingAndGlyphs">i3</text>
<text class="s" x="1145.5" y="672" font-size="40" textLength="39" lengthAdjust="spacingAndGlyphs" stroke="#fff" stroke-width="0.5">af.</text>
<text class="s" x="1281.5" y="672" font-size="40" textLength="37.5" lengthAdjust="spacingAndGlyphs" stroke="#fff" stroke-width="0.5">ef.</text>
<text class="d" x="1481.8" y="693" font-size="52" textLength="49" lengthAdjust="spacingAndGlyphs" stroke="#000" stroke-width="1">M</text>
<text class="s" x="1517.3" y="948" font-size="53" textLength="32" lengthAdjust="spacingAndGlyphs" font-weight="bold">C</text>
<text class="s" x="1382" y="1017.2" font-size="70">B</text>
</g>
</svg>
</body></html>
